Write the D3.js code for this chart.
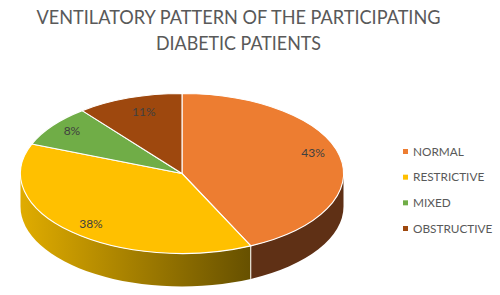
<!DOCTYPE html>
<html><head><meta charset="utf-8">
<script src="https://cdnjs.cloudflare.com/ajax/libs/d3/7.8.5/d3.min.js"></script>
<style>html,body{margin:0;padding:0;background:#fff}svg{display:block}text{font-family:Lato,"Open Sans",sans-serif}</style>
</head><body><svg id="c" width="500" height="295"></svg>
<script>
const categories = ["NORMAL","RESTRICTIVE","MIXED","OBSTRUCTIVE"];
const values = [43,38,8.4,10.6];
const colors = ["#ED7D31","#FFC000","#70AD47","#9E480E"];
const titleLines = ["VENTILATORY PATTERN OF THE PARTICIPATING","DIABETIC PATIENTS"];
const labelNudges = [[5,-3],[-2.6,8],[-6.5,0],[4,3]];

const cx=182, cy=173.5, rx=161.5, ry=80, depth=33;
const svg=d3.select("#c");
const defs=svg.append("defs");
const grad=defs.append("linearGradient").attr("id","sideY").attr("gradientUnits","userSpaceOnUse")
  .attr("x1",cx-rx).attr("x2",cx+rx*0.43).attr("y1",0).attr("y2",0);
grad.append("stop").attr("offset",0).attr("stop-color","#E0AC00");
grad.append("stop").attr("offset",1).attr("stop-color","#665000");

const titleWidths=[404,165];
svg.selectAll("text.t").data(titleLines).join("text").attr("class","t")
  .attr("x",238.5).attr("y",(d,i)=>23.5+i*26.5).attr("text-anchor","middle")
  .attr("font-size",19.5).attr("fill","#595959")
  .attr("textLength",(d,i)=>titleWidths[i]).attr("lengthAdjust","spacingAndGlyphs").text(d=>d);

const pie=d3.pie().sort(null).value(d=>d);
const arcs=pie(values);
const px=a=>cx+rx*Math.sin(a), py=a=>cy-ry*Math.cos(a);
const sideFills=["#5F3015","url(#sideY)"];
[arcs[0],arcs[1]].forEach((s,i)=>{
  const a0=Math.max(s.startAngle,Math.PI/2), a1=Math.min(s.endAngle,Math.PI*1.5);
  const d=`M${px(a0)},${py(a0)}A${rx},${ry} 0 0 1 ${px(a1)},${py(a1)}L${px(a1)},${py(a1)+depth}A${rx},${ry} 0 0 0 ${px(a0)},${py(a0)+depth}Z`;
  svg.append("path").attr("d",d).attr("fill",sideFills[i]);
});
const seam=arcs[0].endAngle;
svg.append("line").attr("x1",px(seam)).attr("x2",px(seam)).attr("y1",py(seam)).attr("y2",py(seam)+depth)
  .attr("stroke","#fff").attr("stroke-width",1);

const arc=d3.arc().innerRadius(0).outerRadius(1);
const topFace=svg.append("g").attr("transform",`translate(${cx},${cy}) scale(${rx},${ry})`);
topFace.selectAll("path").data(arcs).join("path").attr("d",arc)
  .attr("fill",(d,i)=>colors[i]).attr("stroke","#fff").attr("stroke-width",1.1)
  .attr("vector-effect","non-scaling-stroke").attr("stroke-linejoin","round");

const lab=d3.arc().innerRadius(0.8).outerRadius(0.8);
svg.selectAll("text.l").data(arcs).join("text").attr("class","l")
  .attr("x",(d,i)=>cx+rx*lab.centroid(d)[0]+labelNudges[i][0])
  .attr("y",(d,i)=>cy+ry*lab.centroid(d)[1]+labelNudges[i][1])
  .attr("text-anchor","middle").attr("font-size",12).attr("fill","#404040")
  .text(d=>Math.round(d.value)+"%");

const ly=d3.scalePoint().domain(categories).range([151.5,228.5]);
const leg=svg.selectAll("g.k").data(categories).join("g").attr("class","k")
  .attr("transform",d=>`translate(403,${ly(d)})`);
leg.append("rect").attr("x",0).attr("y",-2.5).attr("width",5).attr("height",5).attr("fill",(d,i)=>colors[i]);
leg.append("text").attr("x",10).attr("y",4.2).attr("font-size",11.8).attr("fill","#595959").text(d=>d);
</script></body></html>
